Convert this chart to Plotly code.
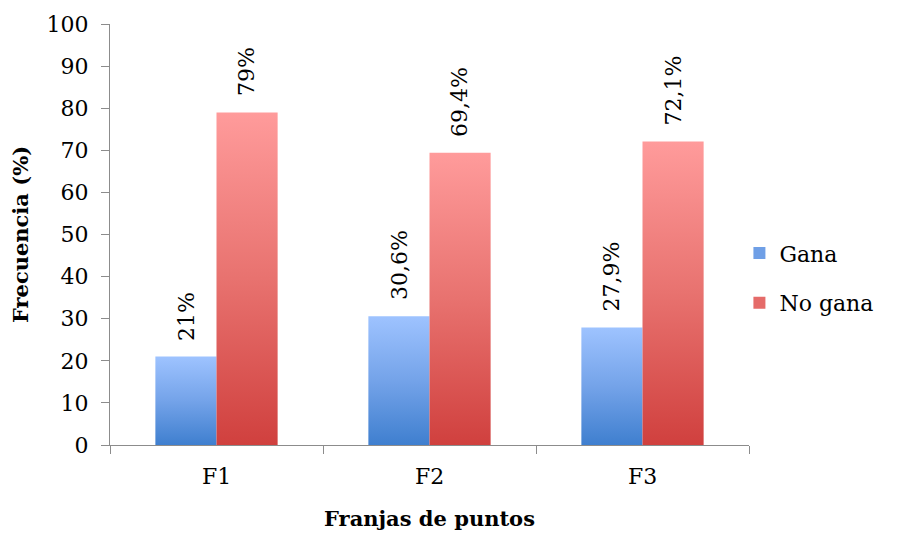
import plotly.graph_objects as go

categories = ["F1", "F2", "F3"]
gana = [21, 30.6, 27.9]
no_gana = [79, 69.4, 72.1]
y_ticks = [0, 10, 20, 30, 40, 50, 60, 70, 80, 90, 100]

FONT = "DejaVu Serif"
BAR_W = 0.287

series = [
    ("Gana", gana, -1, [[0, "#3f7fcf"], [0.5, "#74a3e9"], [1, "#9ec3ff"]], "#6f9fe6"),
    ("No gana", no_gana, 0, [[0, "#d0403e"], [0.5, "#e8726f"], [1, "#ff9b9b"]], "#e56b69"),
]


def label(v):
    return f"{v:g}".replace(".", ",") + "%"


fig = go.Figure()
for name, vals, side, cscale, solid in series:
    for i, v in enumerate(vals):
        x0 = i + side * BAR_W
        x1 = x0 + BAR_W
        fig.add_trace(go.Scatter(
            x=[x0, x0, x1, x1, x0], y=[0, v, v, 0, 0],
            mode="lines", fill="toself", line=dict(width=0),
            fillgradient=dict(type="vertical", colorscale=cscale),
            name=name, showlegend=False, hoverinfo="skip",
        ))
        fig.add_annotation(
            x=(x0 + x1) / 2, y=v, text=label(v), textangle=-90,
            showarrow=False, xanchor="center", yanchor="bottom", yshift=14,
            font=dict(family=FONT, size=22, color="#000"),
        )
    # legend key
    fig.add_trace(go.Bar(x=[None], y=[None], name=name, legendgroup=name,
                         marker=dict(color=solid, line=dict(width=0))))

fig.update_layout(
    width=910, height=538,
    margin=dict(l=110, r=161, t=20, b=91),
    paper_bgcolor="white", plot_bgcolor="white",
    font=dict(family=FONT, size=22, color="#000"),
    showlegend=True,
    legend=dict(x=0.985, y=0.396, xanchor="left", yanchor="middle",
                font=dict(family=FONT, size=22), tracegroupgap=18,
                itemwidth=30, bgcolor="rgba(0,0,0,0)"),
    xaxis=dict(
        range=[-0.5, 2.5], tickmode="array", tickvals=[0, 1, 2], ticktext=categories,
        ticks="", showgrid=False, zeroline=False, showline=True,
        linecolor="#8c8c8c", linewidth=1, ticklabelstandoff=12,
        minor=dict(tickmode="array", tickvals=[-0.5, 0.5, 1.5, 2.5], ticks="outside",
                   ticklen=8, tickcolor="#8c8c8c", showgrid=False),
        title=dict(text="<b>Franjas de puntos</b>", standoff=22,
                   font=dict(family=FONT, size=21)),
        tickfont=dict(family=FONT, size=22),
    ),
    yaxis=dict(
        range=[0, 100], tickmode="array", tickvals=y_ticks,
        ticks="outside", ticklen=8, tickcolor="#8c8c8c",
        showgrid=False, zeroline=False, showline=True,
        linecolor="#8c8c8c", linewidth=1, ticklabelstandoff=8,
        title=dict(text="<b>Frecuencia (%)</b>", standoff=12,
                   font=dict(family=FONT, size=21)),
        tickfont=dict(family=FONT, size=22),
    ),
)

fig.write_html("out.html")
